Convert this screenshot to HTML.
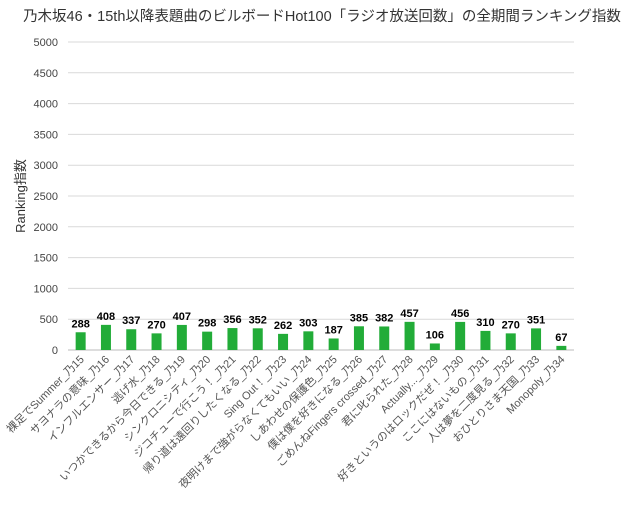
<!DOCTYPE html>
<html><head><meta charset="utf-8"><style>
body{margin:0;background:#fff;font-family:"Liberation Sans","Noto Sans CJK JP",sans-serif;}
svg text{font-family:"Liberation Sans","Noto Sans CJK JP",sans-serif;}
</style></head><body>
<svg id="c" width="640" height="505">
<text x="322" y="21" text-anchor="middle" font-size="14.5" fill="#333">乃木坂46・15th以降表題曲のビルボードHot100「ラジオ放送回数」の全期間ランキング指数</text>
<text transform="translate(25,196) rotate(-90)" text-anchor="middle" font-size="13" fill="#333">Ranking指数</text>
<g id="grid"></g><g id="bars"></g><g id="xl"></g>
</svg>
<script>
const categories=["裸足でSummer_乃15","サヨナラの意味_乃16","インフルエンサー_乃17","逃げ水_乃18","いつかできるから今日できる_乃19","シンクロニシティ_乃20","ジコチューで行こう！_乃21","帰り道は遠回りしたくなる_乃22","Sing Out！_乃23","夜明けまで強がらなくてもいい_乃24","しあわせの保護色_乃25","僕は僕を好きになる_乃26","ごめんねFingers crossed_乃27","君に叱られた_乃28","Actually..._乃29","好きというのはロックだぜ！_乃30","ここにはないもの_乃31","人は夢を二度見る_乃32","おひとりさま天国_乃33","Monopoly_乃34"];
const values=[288,408,337,270,407,298,356,352,262,303,187,385,382,457,106,456,310,270,351,67];
const yTicks=[0,500,1000,1500,2000,2500,3000,3500,4000,4500,5000];
const L=68,R=574,T=42,B=350,yMax=5000;
const y=v=>B-(v/yMax)*(B-T);
const step=(R-L)/categories.length;
const x=i=>L+step*(i+0.5);
const NS="http://www.w3.org/2000/svg";
function mk(t,a,p,txt){const e=document.createElementNS(NS,t);for(const k in a)e.setAttribute(k,a[k]);if(txt!==undefined)e.textContent=txt;p.appendChild(e);return e;}
const g=document.getElementById('grid'),b=document.getElementById('bars'),xl=document.getElementById('xl');
yTicks.forEach(v=>{
const ln=mk('line',{x1:L,x2:R,y1:y(v),y2:y(v),stroke:v===0?'#bbb':'#d9d9d9','stroke-width':1},g);


const t=mk('text',{x:L-10,y:y(v)+4,'text-anchor':'end','font-size':11,fill:'#444'},g,String(v));


});
categories.forEach((c,i)=>{
const v=values[i],bw=10;
const r=mk('rect',{x:x(i)-bw/2,y:y(v),width:bw,height:B-y(v),fill:'#22ac38'},b);


const t=mk('text',{x:x(i),y:y(v)-5,'text-anchor':'middle','font-size':11,'font-weight':'bold',fill:'#000'},b,String(v));


const l=mk('text',{transform:`translate(${x(i)+4},${B+10}) rotate(-45)`,'text-anchor':'end','font-size':11,fill:'#555'},xl,c);


});
</script>
</body></html>
